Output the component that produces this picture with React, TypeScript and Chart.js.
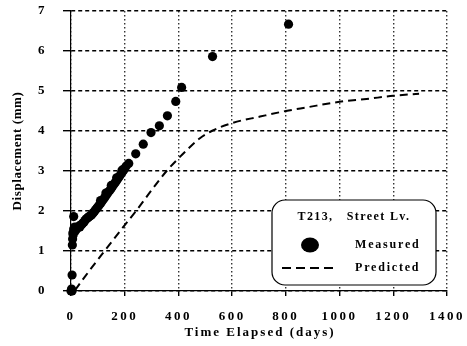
import React, { useEffect, useRef } from "react";
import { Chart, registerables } from "chart.js";

Chart.register(...registerables);

// ---- data ----
const measuredDays = [
  0, 2, 4, 4, 5, 6, 7, 8, 10, 10, 12, 14, 16, 18, 20, 23, 26, 30, 33, 36, 40, 44, 48, 52, 56,
  60, 64, 68, 72, 76, 80, 84, 88, 92, 96, 100, 105, 110, 115, 120, 125, 130, 135, 140, 145,
  150, 155, 160, 165, 170, 175, 180, 185, 190, 196, 200, 205, 215, 110, 130, 150, 170, 190,
  241, 269, 298, 329, 359, 390, 412, 527, 810,
];
const measuredMm = [
  0.0, 0.05, 0.0, 0.4, 1.15, 1.3, 1.45, 1.4, 1.86, 1.55, 1.5, 1.6, 1.5, 1.58, 1.55, 1.6, 1.58,
  1.62, 1.6, 1.65, 1.66, 1.7, 1.72, 1.76, 1.8, 1.82, 1.84, 1.86, 1.88, 1.9, 1.93, 1.96, 2.0,
  2.03, 2.07, 2.1, 2.15, 2.19, 2.24, 2.29, 2.33, 2.38, 2.43, 2.48, 2.52, 2.57, 2.62, 2.67,
  2.71, 2.76, 2.81, 2.86, 2.91, 2.96, 3.02, 3.06, 3.12, 3.19, 2.26, 2.45, 2.64, 2.83, 3.02,
  3.43, 3.67, 3.96, 4.13, 4.38, 4.74, 5.09, 5.86, 6.67,
];
const predictedDays = [15, 52, 125, 190, 250, 300, 356, 431, 480, 524, 600, 704, 800, 877, 1000, 1100, 1200, 1296];
const predictedMm = [0.02, 0.36, 1.0, 1.56, 2.07, 2.52, 3.0, 3.52, 3.82, 4.0, 4.2, 4.36, 4.5, 4.59, 4.73, 4.8, 4.88, 4.93];

const xTicks = [0, 200, 400, 600, 800, 1000, 1200, 1400];
const yTicks = [0, 1, 2, 3, 4, 5, 6, 7];
const xTitle = "Time Elapsed (days)";
const yTitle = "Displacement (mm)";
const legendTitle = "T213,   Street Lv.";
const seriesNames = ["Measured", "Predicted"];

const FONT = "'Liberation Serif', 'Times New Roman', serif";

const textPlugin = {
  id: "customTexts",
  beforeDraw(chart: any) {
    (chart.ctx as any).letterSpacing = "2.5px";
  },
  afterDraw(chart: any) {
    const ctx = chart.ctx as any;
    const area = chart.chartArea;
    ctx.save();
    ctx.fillStyle = "#000";
    ctx.textAlign = "center";
    ctx.textBaseline = "middle";

    // axis titles
    ctx.letterSpacing = "2px";
    ctx.font = `bold 13px ${FONT}`;
    ctx.fillText(xTitle, (area.left + area.right) / 2 + 1, 333);
    ctx.save();
    ctx.translate(18, (area.top + area.bottom) / 2);
    ctx.rotate(-Math.PI / 2);
    ctx.letterSpacing = "0.6px";
    ctx.fillText(yTitle, 0, 0);
    ctx.restore();

    // legend box
    const bx = 272, by = 200, bw = 164, bh = 85, r = 13;
    ctx.beginPath();
    ctx.moveTo(bx + r, by);
    ctx.lineTo(bx + bw - r, by);
    ctx.arcTo(bx + bw, by, bx + bw, by + r, r);
    ctx.lineTo(bx + bw, by + bh - r);
    ctx.arcTo(bx + bw, by + bh, bx + bw - r, by + bh, r);
    ctx.lineTo(bx + r, by + bh);
    ctx.arcTo(bx, by + bh, bx, by + bh - r, r);
    ctx.lineTo(bx, by + r);
    ctx.arcTo(bx, by, bx + r, by, r);
    ctx.closePath();
    ctx.fillStyle = "#fff";
    ctx.fill();
    ctx.strokeStyle = "#000";
    ctx.lineWidth = 1.2;
    ctx.stroke();

    ctx.fillStyle = "#000";
    ctx.font = `bold 12px ${FONT}`;
    ctx.letterSpacing = "1.4px";
    ctx.textAlign = "center";
    ctx.fillText(legendTitle, 354, 217);

    // measured symbol
    ctx.beginPath();
    ctx.ellipse(310, 245, 9, 7.5, 0, 0, Math.PI * 2);
    ctx.fill();
    // predicted symbol
    ctx.save();
    ctx.beginPath();
    ctx.setLineDash([9, 5]);
    ctx.lineWidth = 2;
    ctx.moveTo(282, 268);
    ctx.lineTo(334, 268);
    ctx.stroke();
    ctx.restore();

    ctx.textAlign = "left";
    ctx.letterSpacing = "1.8px";
    ctx.fillText(seriesNames[0], 355, 245);
    ctx.fillText(seriesNames[1], 355, 268);

    ctx.restore();
    ctx.letterSpacing = "0px";
  },
};

export default function App() {
  const ref = useRef<HTMLCanvasElement | null>(null);

  useEffect(() => {
    const canvas = ref.current;
    if (!canvas) return;
    const chart = new Chart(canvas, {
      type: "scatter",
      data: {
        datasets: [
          {
            type: "scatter",
            label: seriesNames[0],
            data: measuredDays.map((d, i) => ({ x: d, y: measuredMm[i] })),
            backgroundColor: "#000",
            borderColor: "#000",
            pointRadius: 4.6,
            pointHoverRadius: 4.6,
            borderWidth: 0,
            clip: false,
            order: 1,
          } as any,
          {
            type: "line",
            label: seriesNames[1],
            data: predictedDays.map((d, i) => ({ x: d, y: predictedMm[i] })),
            borderColor: "#000",
            borderWidth: 2,
            borderDash: [8, 5],
            pointRadius: 0,
            fill: false,
            showLine: true,
            cubicInterpolationMode: "monotone",
            clip: false,
            order: 2,
          } as any,
        ],
      },
      options: {
        responsive: false,
        animation: false,
        devicePixelRatio: 1,
        layout: { padding: { left: 0, top: 11, right: 20, bottom: 0 } },
        plugins: { legend: { display: false }, tooltip: { enabled: false } },
        scales: {
          x: {
            type: "linear",
            min: 0,
            max: 1400,
            afterBuildTicks: (s: any) => {
              s.ticks = xTicks.map((v) => ({ value: v }));
            },
            afterFit: (s: any) => {
              s.height = 55;
              s.paddingLeft = 0;
              s.paddingRight = 0;
            },
            ticks: {
              color: "#000",
              font: { family: FONT, weight: "bold", size: 13 },
              padding: 13,
              maxRotation: 0,
              autoSkip: false,
              callback: (v: any) => String(v),
            },
            grid: { color: "#333", lineWidth: 1.4, tickLength: 5, tickColor: "#000", tickWidth: 1.4 },
            border: { display: true, color: "#000", width: 1.2, dash: [1.5, 2.5] },
          },
          y: {
            type: "linear",
            min: 0,
            max: 7,
            afterBuildTicks: (s: any) => {
              s.ticks = yTicks.map((v) => ({ value: v }));
            },
            afterFit: (s: any) => {
              s.width = 71;
              s.paddingTop = 0;
              s.paddingBottom = 0;
            },
            ticks: {
              color: "#000",
              font: { family: FONT, weight: "bold", size: 13 },
              padding: 16,
              autoSkip: false,
              callback: (v: any) => String(v),
            },
            grid: { color: "#000", lineWidth: 1.4, tickLength: 8, tickColor: "#000", tickWidth: 1.4 },
            border: { display: true, color: "#000", width: 1.2, dash: [4, 3] },
          },
        },
      } as any,
      plugins: [textPlugin],
    });
    return () => chart.destroy();
  }, []);

  return (
    <div style={{ position: "fixed", left: 0, top: 0, width: 467, height: 346, background: "#fff" }}>
      <canvas ref={ref} width={467} height={346} style={{ width: 467, height: 346, display: "block" }} />
    </div>
  );
}
